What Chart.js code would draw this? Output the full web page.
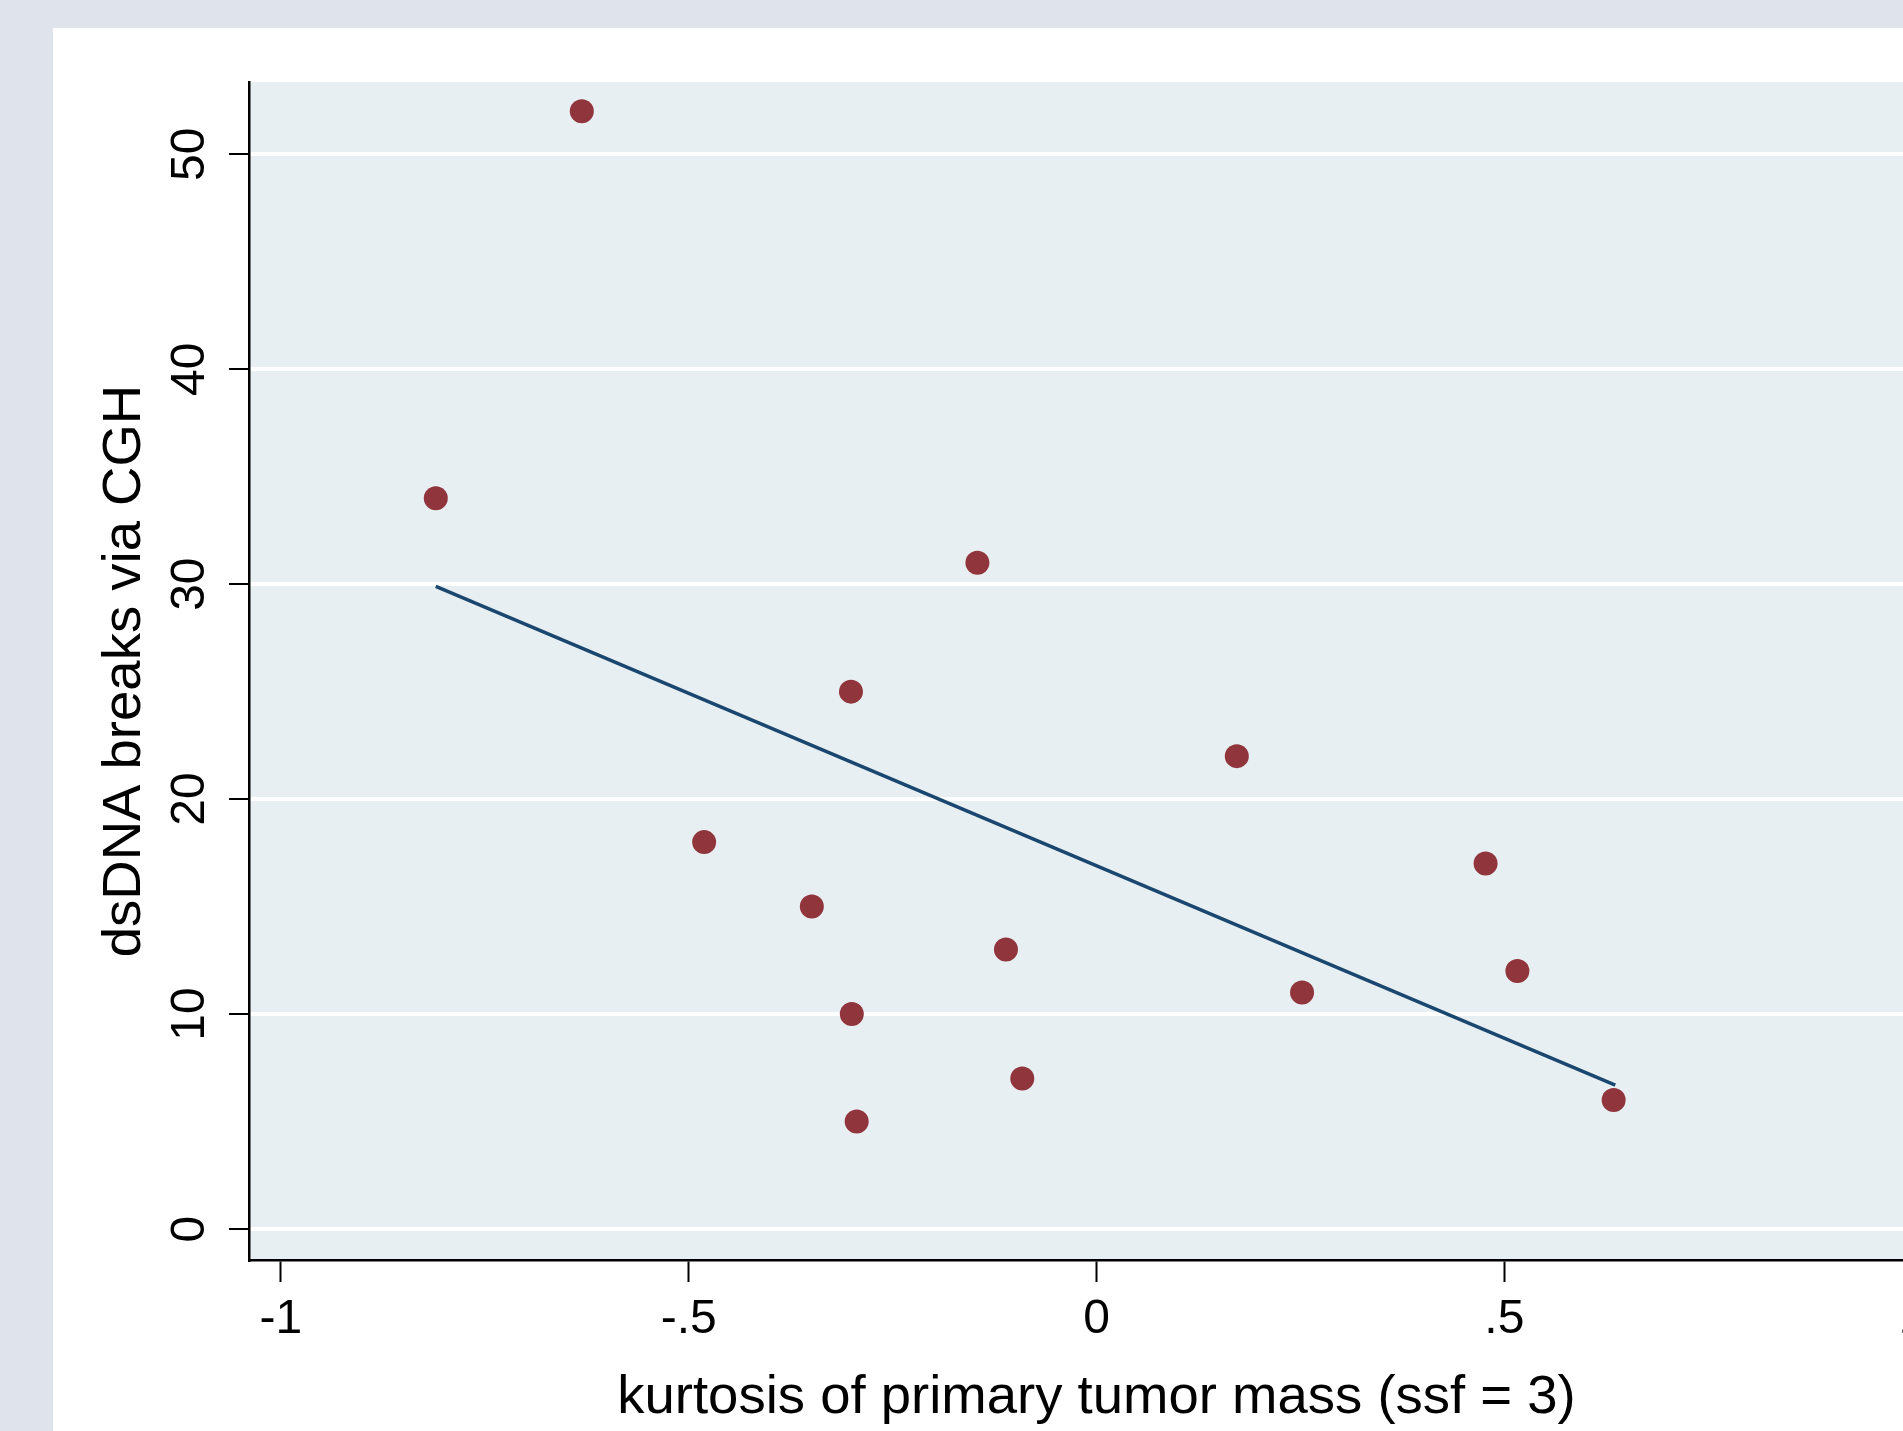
<!DOCTYPE html>
<html>
<head>
<meta charset="utf-8">
<script src="https://cdn.jsdelivr.net/npm/chart.js@4.4.0/dist/chart.umd.min.js"></script>
<style>
html, body { margin:0; padding:0; width:1903px; height:1431px; overflow:hidden; background:#dfe3ec; }
#panel { position:absolute; left:53px; top:28px; width:1850px; height:1403px; background:#ffffff; }
#wrap { position:absolute; left:0; top:0; width:1956px; height:1431px; }
</style>
</head>
<body>
<div id="panel"></div>
<div id="wrap"><canvas id="c" width="1956" height="1431"></canvas></div>
<script>
// ---- data ----
const xValues = [-0.631, -0.810, -0.146, -0.301, 0.172, -0.481, 0.477, -0.349, -0.111, 0.516, 0.252, -0.300, -0.091, 0.634, -0.294];
const yValues = [52, 34, 31, 25, 22, 18, 17, 15, 13, 12, 11, 10, 7, 6, 5];
const fitX = [-0.810, 0.636];
const fitY = [29.9, 6.7];
const xTickValues = [-1, -0.5, 0, 0.5, 1];
const xTickLabels = ['-1', '-.5', '0', '.5', '1'];
const yTickValues = [0, 10, 20, 30, 40, 50];
const yTickLabels = ['0', '10', '20', '30', '40', '50'];
const xTitle = 'kurtosis of primary tumor mass (ssf = 3)';
const yTitle = 'dsDNA breaks via CGH';

const scatterPoints = xValues.map((x, i) => ({ x: x, y: yValues[i] }));
const fitPoints = fitX.map((x, i) => ({ x: x, y: fitY[i] }));

const plotBg = {
  id: 'plotBg',
  beforeDraw(chart) {
    const a = chart.chartArea, ctx = chart.ctx;
    ctx.save();
    ctx.fillStyle = '#e8eff2';
    ctx.fillRect(a.left, a.top, a.right - a.left, a.bottom - a.top);
    ctx.restore();
  }
};

new Chart(document.getElementById('c'), {
  type: 'scatter',
  data: {
    datasets: [
      {
        label: 'Fitted values',
        data: fitPoints,
        showLine: true,
        borderColor: '#1a476f',
        borderWidth: 3.5,
        pointRadius: 0,
        fill: false,
        order: 0
      },
      {
        label: 'dsDNA breaks via CGH',
        data: scatterPoints,
        backgroundColor: '#90353b',
        borderColor: '#90353b',
        borderWidth: 0,
        pointRadius: 12,
        order: 1
      }
    ]
  },
  options: {
    responsive: false,
    devicePixelRatio: 1,
    animation: false,
    layout: { padding: { left: 0, top: 82, right: 0, bottom: 0 } },
    plugins: { legend: { display: false }, tooltip: { enabled: false } },
    scales: {
      x: {
        type: 'linear',
        min: -1.039,
        max: 1.039,
        afterBuildTicks(s) { s.ticks = xTickValues.map(v => ({ value: v })); },
        afterFit(s) { s.height = 171; },
        ticks: {
          color: '#000',
          font: { family: 'Liberation Sans', size: 48 },
          padding: 9,
          maxRotation: 0,
          minRotation: 0,
          callback(v) { const i = xTickValues.indexOf(v); return i >= 0 ? xTickLabels[i] : ''; }
        },
        grid: { display: true, drawOnChartArea: false, drawTicks: true, tickLength: 22, tickColor: '#000', tickWidth: 2 },
        border: { display: true, color: '#000', width: 2.5 },
        title: {
          display: true,
          text: xTitle,
          color: '#000',
          font: { family: 'Liberation Sans', size: 54.5 },
          padding: { top: 0, bottom: 0 }
        }
      },
      y: {
        type: 'linear',
        min: -1.44,
        max: 53.36,
        afterBuildTicks(s) { s.ticks = yTickValues.map(v => ({ value: v })); },
        afterFit(s) { s.width = 249; },
        ticks: {
          color: '#000',
          font: { family: 'Liberation Sans', size: 48 },
          padding: 12,
          minRotation: 90,
          maxRotation: 90,
          crossAlign: 'center',
          callback(v) { const i = yTickValues.indexOf(v); return i >= 0 ? yTickLabels[i] : ''; }
        },
        grid: { display: true, drawOnChartArea: true, color: '#ffffff', lineWidth: 4, drawTicks: true, tickLength: 20, tickColor: '#000', tickWidth: 2 },
        border: { display: true, color: '#000', width: 2.5 },
        title: {
          display: true,
          text: yTitle,
          color: '#000',
          font: { family: 'Liberation Sans', size: 54.5 },
          padding: { top: 92, bottom: 0 }
        }
      }
    }
  },
  plugins: [plotBg]
});
</script>
</body>
</html>
